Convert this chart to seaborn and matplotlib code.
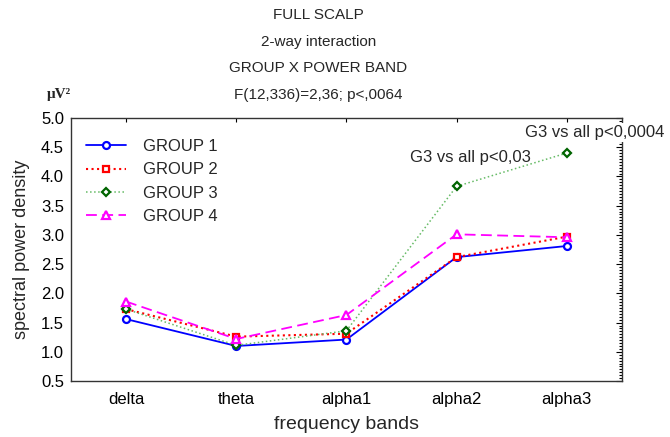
import numpy as np
import pandas as pd
import matplotlib
matplotlib.use('Agg')
import matplotlib.pyplot as plt
import seaborn as sns
from matplotlib.ticker import MultipleLocator

# Data
bands = ['delta', 'theta', 'alpha1', 'alpha2', 'alpha3']
group1 = [1.56, 1.10, 1.21, 2.62, 2.81]
group2 = [1.73, 1.26, 1.31, 2.62, 2.97]
group3 = [1.73, 1.11, 1.36, 3.83, 4.40]
group4 = [1.86, 1.22, 1.63, 3.01, 2.96]
group_names = ['GROUP 1', 'GROUP 2', 'GROUP 3', 'GROUP 4']

df = pd.DataFrame({
    'band': bands * 4,
    'value': group1 + group2 + group3 + group4,
    'group': np.repeat(group_names, len(bands)),
})

# style per group: line colour, marker edge colour, marker, linestyle
styles = {
    'GROUP 1': dict(color='blue', mec='blue', marker='o', ls='-', ms=5, lw=1.3),
    'GROUP 2': dict(color='red', mec='red', marker='s', ls=':', ms=5, lw=1.5),
    'GROUP 3': dict(color='#66bb66', mec='darkgreen', marker='D', ls=':', ms=4, lw=1.1),
    'GROUP 4': dict(color='magenta', mec='magenta', marker='^', ls=(0, (6, 3)), ms=6, lw=1.3),
}

sns.set_style('white')
plt.rcParams['font.family'] = ['Liberation Sans', 'DejaVu Sans']

fig = plt.figure(figsize=(6.7, 4.37), dpi=100)
ax = fig.add_axes([0.106, 0.128, 0.822, 0.602])

for name in group_names:
    st = styles[name]
    sub = df[df['group'] == name]
    sns.lineplot(data=sub, x='band', y='value', ax=ax, color=st['color'],
                 marker=st['marker'], markersize=st['ms'], markerfacecolor='white',
                 markeredgecolor=st['mec'], markeredgewidth=1.6,
                 linestyle=st['ls'], linewidth=st['lw'], label=name, sort=False)

ax.set_xlim(-0.5, 4.5)
ax.set_ylim(0.5, 5.0)
ax.yaxis.set_major_locator(MultipleLocator(0.5))
ax.yaxis.set_minor_locator(MultipleLocator(0.05))
ax.yaxis.set_major_formatter(matplotlib.ticker.FormatStrFormatter('%.1f'))
ax.tick_params(axis='both', which='both', direction='in', top=True, right=True,
               labelsize=12, colors='black', width=0.8)
ax.tick_params(axis='y', which='major', length=4, pad=5)
ax.tick_params(axis='y', which='minor', length=2.5)
ax.tick_params(axis='x', which='major', length=3, pad=8)
for s in ax.spines.values():
    s.set_color('#333333')
    s.set_linewidth(1.0)

ax.set_xlabel('frequency bands', fontsize=14, labelpad=6)
ax.set_ylabel('spectral power density', fontsize=13, labelpad=8)

leg = ax.legend(loc='upper left', bbox_to_anchor=(0.015, 0.945), frameon=False,
                fontsize=12, handlelength=2.4, labelspacing=0.5, borderaxespad=0,
                handletextpad=1.0)

ax.text(2.58, 4.32, 'G3 vs all p<0,03', fontsize=12, va='center', ha='left')
ax.text(3.62, 4.75, 'G3 vs all p<0,0004', fontsize=12, va='center', ha='left',
        clip_on=False, bbox=dict(facecolor='white', edgecolor='none', pad=1.5), zorder=5)

# titles above the axes
fig.text(0.475, 0.966, 'FULL SCALP', ha='center', va='center', fontsize=11)
fig.text(0.475, 0.904, '2-way interaction', ha='center', va='center', fontsize=11)
fig.text(0.475, 0.844, 'GROUP X POWER BAND', ha='center', va='center', fontsize=11)
fig.text(0.475, 0.783, 'F(12,336)=2,36; p<,0064', ha='center', va='center', fontsize=11)
fig.text(0.088, 0.783, 'μV²', ha='center', va='center', fontsize=11,
         fontweight='bold', family=['Liberation Serif', 'DejaVu Serif'])

fig.savefig('out.png', dpi=100)
